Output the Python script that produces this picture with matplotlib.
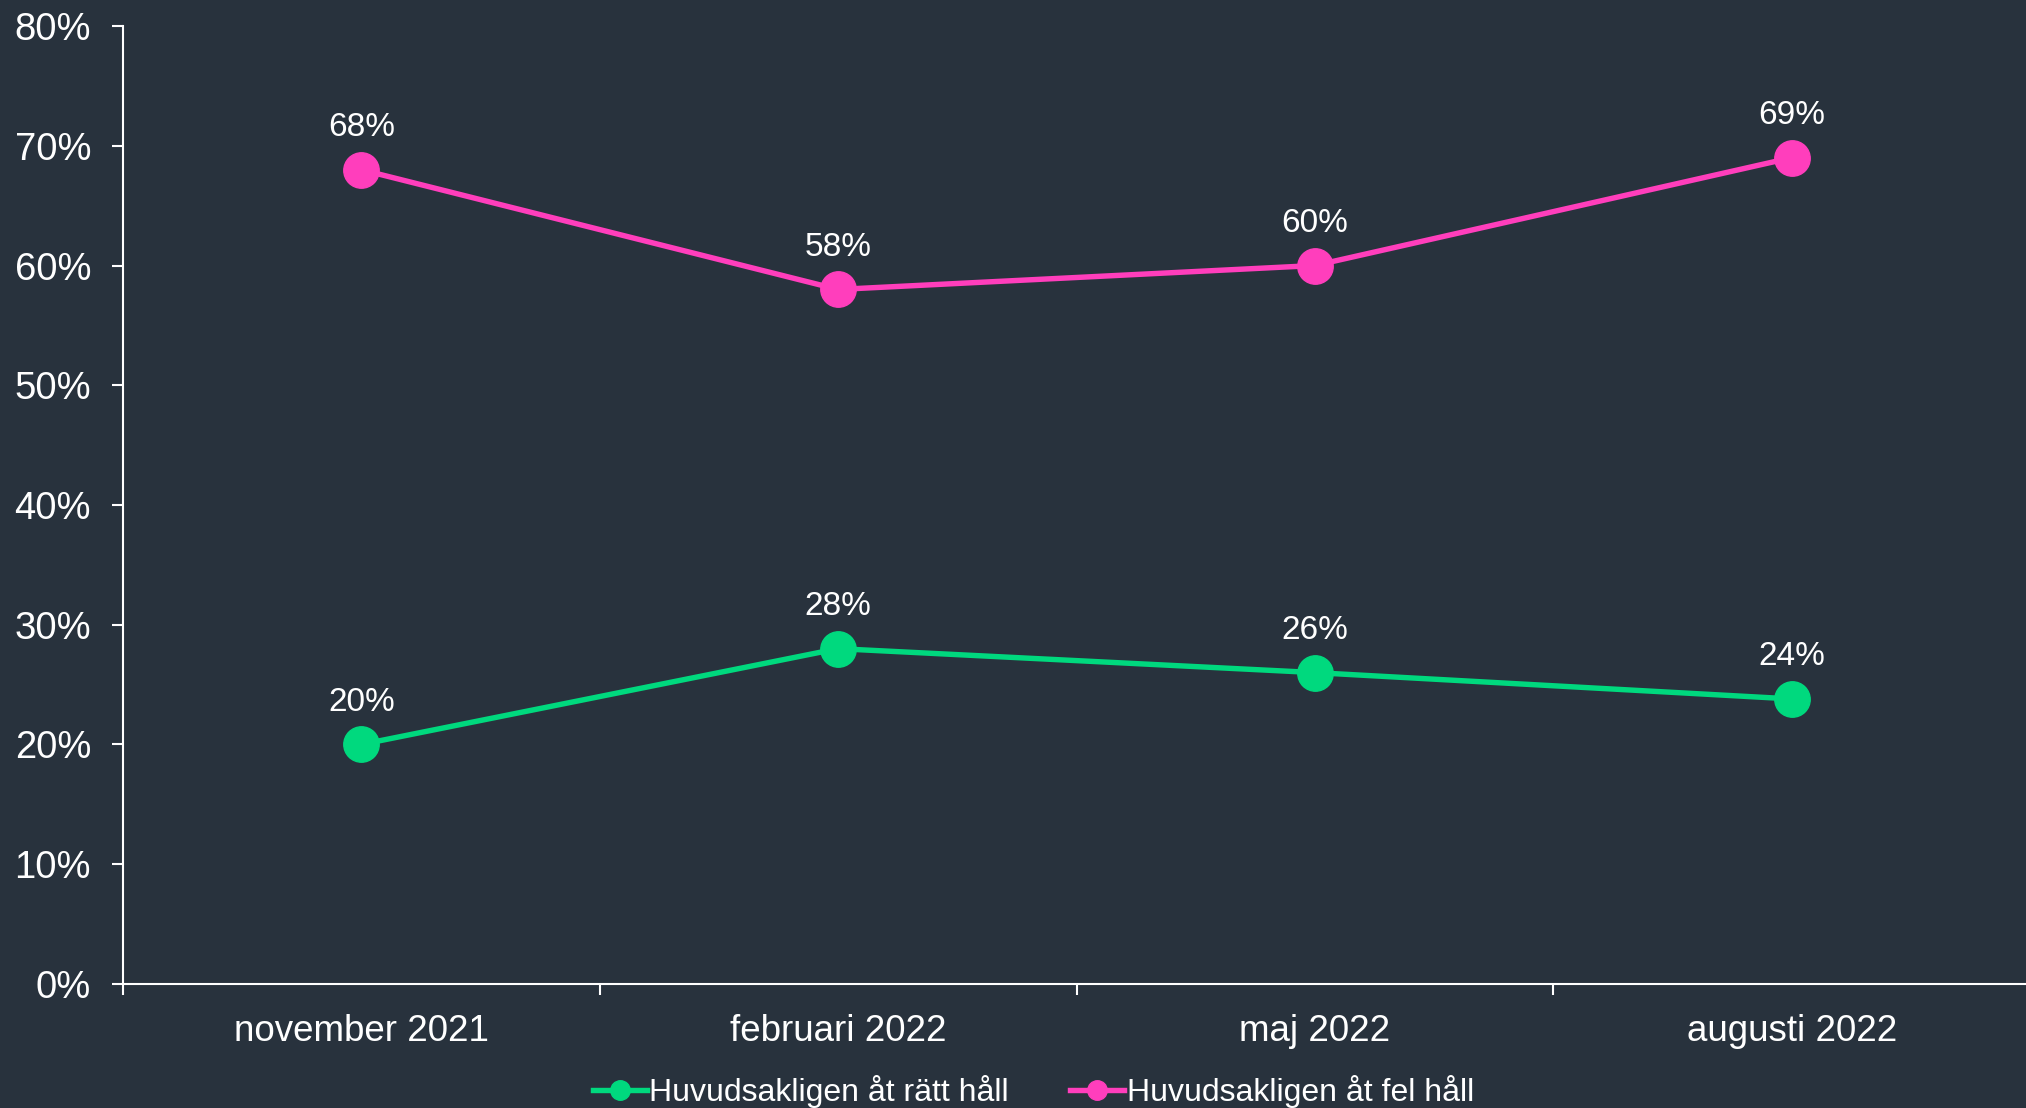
import matplotlib.pyplot as plt
from matplotlib.ticker import FixedLocator, PercentFormatter

# data
categories = ['november 2021', 'februari 2022', 'maj 2022', 'augusti 2022']
ratt_hall = [20, 28, 26, 23.8]
fel_hall = [68, 58, 60, 69]
ratt_labels = ['20%', '28%', '26%', '24%']
fel_labels = ['68%', '58%', '60%', '69%']

bg = '#28323d'
green = '#00d97e'
pink = '#ff3ebc'
fg = '#ffffff'

plt.rcParams['font.family'] = ['Liberation Sans', 'DejaVu Sans']

fig = plt.figure(figsize=(20.26, 11.08), dpi=100, facecolor=bg)
ax = fig.add_axes([0.0607, 0.112, 0.9413, 0.8645])
ax.set_facecolor(bg)

x = list(range(len(categories)))
ax.plot(x, ratt_hall, color=green, lw=3.9, marker='o', ms=25.5,
        label='Huvudsakligen åt rätt håll', zorder=3)
ax.plot(x, fel_hall, color=pink, lw=3.9, marker='o', ms=25.5,
        label='Huvudsakligen åt fel håll', zorder=3)

# value labels above each point
for xs, vals, labs in [(x, ratt_hall, ratt_labels), (x, fel_hall, fel_labels)]:
    for xi, v, lab in zip(xs, vals, labs):
        ax.annotate(lab, (xi, v), xytext=(0, 30.5), textcoords='offset points',
                    ha='center', va='center', color=fg, fontsize=24)

ax.set_ylim(0, 80)
ax.set_xlim(-0.5, len(categories) - 0.5)
ax.yaxis.set_major_locator(FixedLocator(range(0, 81, 10)))
ax.yaxis.set_major_formatter(PercentFormatter(decimals=0))

ax.set_xticks(x)
ax.set_xticklabels(categories)
ax.xaxis.set_minor_locator(FixedLocator([i - 0.5 for i in range(len(categories) + 1)]))
ax.tick_params(axis='x', which='major', length=0, pad=22, colors=fg, labelsize=26.5)
ax.tick_params(axis='x', which='minor', length=8, width=1.5, color=fg)
ax.tick_params(axis='y', length=8, width=1.5, pad=15, colors=fg, labelsize=27.5)

for side in ['top', 'right']:
    ax.spines[side].set_visible(False)
for side in ['left', 'bottom']:
    ax.spines[side].set_color(fg)
    ax.spines[side].set_linewidth(1.5)

leg = fig.legend(loc='center', bbox_to_anchor=(0.51, 0.015), ncol=2, frameon=False,
                 fontsize=23, markerscale=0.55, handlelength=1.7, handletextpad=0.08,
                 columnspacing=1.9)
for t in leg.get_texts():
    t.set_color(fg)

fig.savefig('out.png', dpi=100, facecolor=bg)
